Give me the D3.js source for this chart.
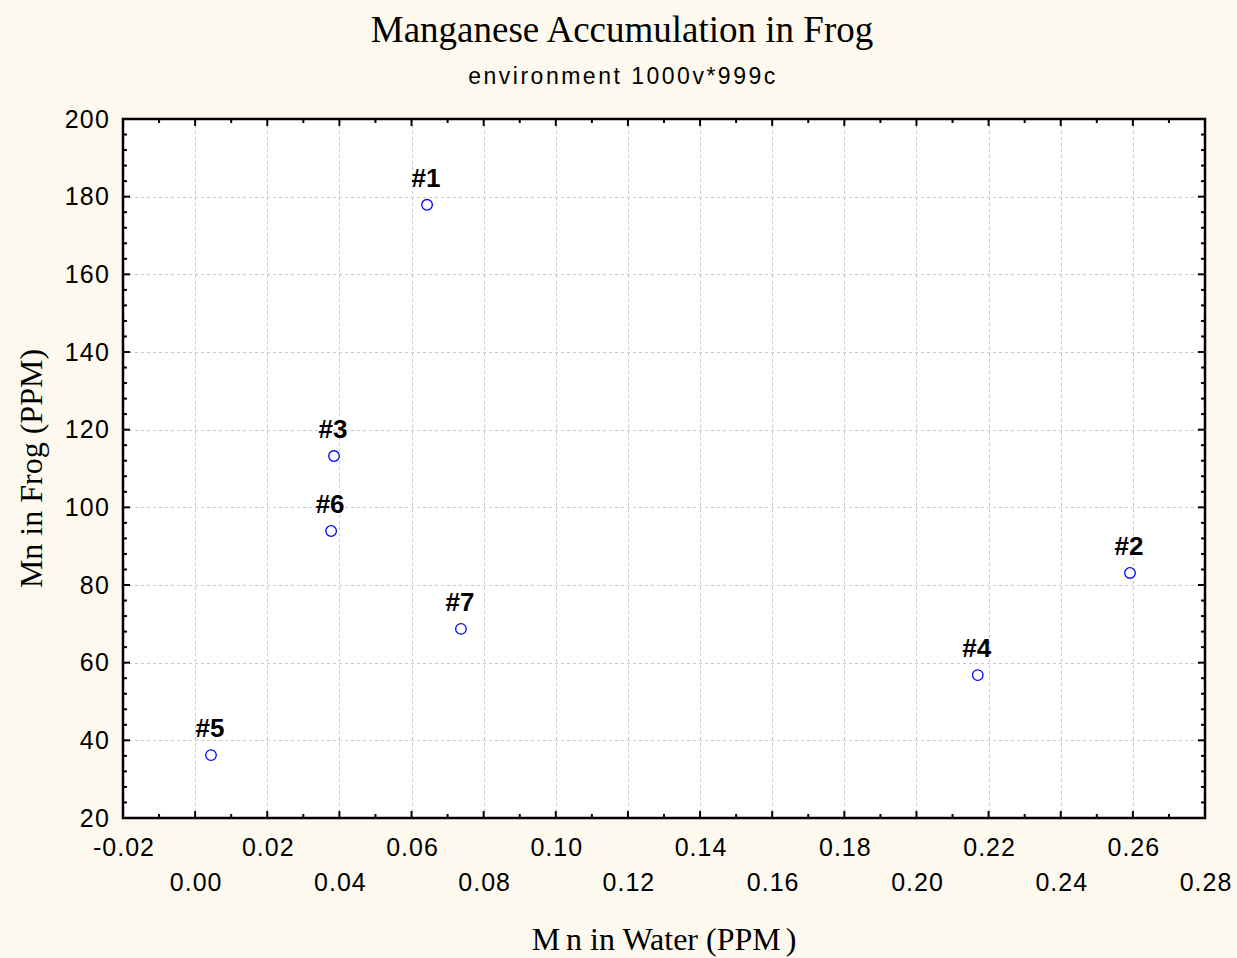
<!DOCTYPE html>
<html>
<head>
<meta charset="utf-8">
<script src="https://cdn.jsdelivr.net/npm/d3@7"></script>
<style>
  html, body { margin: 0; padding: 0; background: #FEF9EE; }
  svg { display: block; }
</style>
</head>
<body>
<svg id="chart" width="1237" height="958"></svg>
<script>
// Sample sites: label, manganese in water (PPM), manganese in frog tissue (PPM)
const siteLabels = ["#1", "#2", "#3", "#4", "#5", "#6", "#7"];
const waterMn = [0.0643, 0.2592, 0.0385, 0.2170, 0.0044, 0.0377, 0.0737];
const frogMn = [177.9, 83.1, 113.2, 56.8, 36.2, 93.9, 68.7];

const xTicks = [-0.02, 0.00, 0.02, 0.04, 0.06, 0.08, 0.10, 0.12, 0.14, 0.16, 0.18, 0.20, 0.22, 0.24, 0.26, 0.28];
const yTicks = [20, 40, 60, 80, 100, 120, 140, 160, 180, 200];

const plot = { left: 123, right: 1205, top: 119, bottom: 818 };
const SANS = "Liberation Sans, Arial, sans-serif";
const SERIF = "Liberation Serif, Times New Roman, serif";

const svg = d3.select("#chart");

const x = d3.scaleLinear().domain([-0.02, 0.28]).range([plot.left, plot.right]);
const y = d3.scaleLinear().domain([20, 200]).range([plot.bottom, plot.top]);

// plot area background
svg.append("rect")
  .attr("x", plot.left).attr("y", plot.top)
  .attr("width", plot.right - plot.left).attr("height", plot.bottom - plot.top)
  .attr("fill", "#ffffff");

// dashed grid lines
const grid = svg.append("g").attr("stroke", "#c8c8c8").attr("stroke-width", 1).attr("stroke-dasharray", "3,3");
grid.selectAll("line.gx").data(xTicks.slice(1, -1)).join("line")
  .attr("x1", d => Math.round(x(d)) + 0.5).attr("x2", d => Math.round(x(d)) + 0.5)
  .attr("y1", plot.top).attr("y2", plot.bottom);
grid.selectAll("line.gy").data(yTicks.slice(1, -1)).join("line")
  .attr("y1", d => Math.round(y(d)) + 0.5).attr("y2", d => Math.round(y(d)) + 0.5)
  .attr("x1", plot.left).attr("x2", plot.right);

// inward major and minor ticks on all four sides
const xMinor = d3.range(-0.02, 0.2801, 0.01).map(v => +v.toFixed(3));
const yMinor = d3.range(20, 200.01, 4);
const tickG = svg.append("g").attr("stroke", "#000").attr("stroke-width", 2);
function isMajorX(v) { return Math.abs(Math.round(v / 0.02) * 0.02 - v) < 1e-6; }
xMinor.forEach(v => {
  const len = isMajorX(v) ? 7 : 4;
  const px = x(v);
  tickG.append("line").attr("x1", px).attr("x2", px).attr("y1", plot.bottom).attr("y2", plot.bottom - len);
  tickG.append("line").attr("x1", px).attr("x2", px).attr("y1", plot.top).attr("y2", plot.top + len);
});
yMinor.forEach(v => {
  const len = (v % 20 === 0) ? 7 : 4;
  const py = y(v);
  tickG.append("line").attr("y1", py).attr("y2", py).attr("x1", plot.left).attr("x2", plot.left + len);
  tickG.append("line").attr("y1", py).attr("y2", py).attr("x1", plot.right).attr("x2", plot.right - len);
});

// frame
svg.append("rect")
  .attr("x", plot.left).attr("y", plot.top)
  .attr("width", plot.right - plot.left).attr("height", plot.bottom - plot.top)
  .attr("fill", "none").attr("stroke", "#000").attr("stroke-width", 2.5);

// y tick labels
svg.append("g").selectAll("text").data(yTicks).join("text")
  .attr("x", plot.left - 13).attr("y", d => y(d))
  .attr("dy", "0.35em")
  .attr("text-anchor", "end")
  .attr("font-family", SANS)
  .attr("font-size", 25)
  .attr("letter-spacing", 1.2)
  .attr("fill", "#000")
  .text(d => d);

// x tick labels, staggered over two rows
const fmt = v => d3.format(".2f")(v).replace("\u2212", "-");
svg.append("g").selectAll("text").data(xTicks).join("text")
  .attr("x", d => x(d) + 1)
  .attr("y", (d, i) => i % 2 === 0 ? 856 : 891)
  .attr("text-anchor", "middle")
  .attr("font-family", SANS)
  .attr("font-size", 25)
  .attr("letter-spacing", 1)
  .attr("fill", "#000")
  .text(d => fmt(d));

// title and subtitle
svg.append("text")
  .attr("x", 622).attr("y", 42)
  .attr("text-anchor", "middle")
  .attr("font-family", SERIF)
  .attr("font-size", 37)
  .attr("fill", "#000")
  .text("Manganese Accumulation in Frog");
svg.append("text")
  .attr("x", 623).attr("y", 84)
  .attr("text-anchor", "middle")
  .attr("font-family", SANS)
  .attr("font-size", 23)
  .attr("letter-spacing", 2.5)
  .attr("fill", "#000")
  .text("environment 1000v*999c");

// axis titles
const xTitle = svg.append("text")
  .attr("x", 664).attr("y", 950)
  .attr("text-anchor", "middle")
  .attr("font-family", SERIF)
  .attr("font-size", 32)
  .attr("fill", "#000");
xTitle.append("tspan").text("M");
xTitle.append("tspan").attr("dx", 6).text("n in Water (PPM");
xTitle.append("tspan").attr("dx", 5).text(")");

svg.append("text")
  .attr("transform", `translate(42, ${(plot.top + plot.bottom) / 2}) rotate(-90)`)
  .attr("text-anchor", "middle")
  .attr("font-family", SERIF)
  .attr("font-size", 32)
  .attr("fill", "#000")
  .text("Mn in Frog (PPM)");

// points
const pts = siteLabels.map((lab, i) => ({ lab, xv: waterMn[i], yv: frogMn[i] }));
svg.append("g").selectAll("circle").data(pts).join("circle")
  .attr("cx", d => x(d.xv)).attr("cy", d => y(d.yv))
  .attr("r", 5.3)
  .attr("fill", "#fff")
  .attr("stroke", "#0000ff")
  .attr("stroke-width", 1.3);

// point labels
svg.append("g").selectAll("text").data(pts).join("text")
  .attr("x", d => x(d.xv) - 1).attr("y", d => y(d.yv) - 18)
  .attr("text-anchor", "middle")
  .attr("font-family", SANS)
  .attr("font-weight", "bold")
  .attr("font-size", 26)
  .attr("fill", "#000")
  .text(d => d.lab);
</script>
</body>
</html>
